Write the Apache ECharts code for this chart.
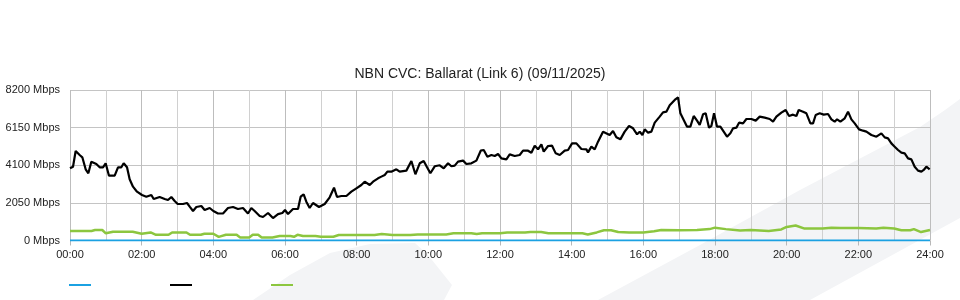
<!DOCTYPE html>
<html>
<head>
<meta charset="utf-8">
<script src="https://cdn.jsdelivr.net/npm/echarts@6/dist/echarts.min.js"></script>
<style>
html,body{margin:0;padding:0;background:#fff;}
#chart{width:960px;height:300px;}
</style>
</head>
<body>
<div id="chart"></div>
<script>
// Tick labels
var yTicks = [0, 2050, 4100, 6150, 8200];
var xTickHours = [0, 2, 4, 6, 8, 10, 12, 14, 16, 18, 20, 22, 24];

// Series: blue (flat at zero)
var blueHours = [0, 24];
var blueMbps  = [0, 0];

// Series: black (main traffic), hours of day and Mbps
var blackHours = [
0.00,0.084,0.158,0.27,0.344,0.437,0.512,0.595,0.735,0.828,0.921,0.995,1.088,1.247,1.34,1.433,1.498,1.591,1.665,1.758,1.87,
2.009,2.13,2.27,2.335,2.502,2.642,2.735,2.828,2.921,3.005,3.153,3.265,3.34,3.433,3.526,3.665,3.758,3.898,
4.0,4.13,4.27,4.409,4.549,4.688,4.828,4.967,5.06,5.153,5.293,5.386,5.526,5.665,5.805,5.926,
6.0,6.084,6.223,6.363,6.437,6.521,6.595,6.688,6.781,6.949,
7.108,7.247,7.368,7.452,7.573,7.713,7.852,7.992,8.131,8.224,8.364,8.457,8.597,8.69,8.783,8.857,8.969,
9.108,9.201,9.387,9.527,9.639,9.76,9.871,9.964,10.057,10.178,10.318,10.43,10.55,10.643,10.736,10.829,10.969,
11.062,11.201,11.341,11.462,11.546,11.648,11.76,11.853,11.946,12.039,12.178,12.271,12.411,12.55,12.643,12.783,12.876,12.969,
13.062,13.155,13.22,13.341,13.453,13.555,13.667,13.806,13.899,14.011,14.132,14.271,14.411,14.457,14.55,14.643,14.736,
14.875,15.061,15.154,15.247,15.359,15.48,15.601,15.713,15.825,15.899,15.974,16.039,16.132,16.225,16.318,16.457,16.55,16.643,16.736,16.876,16.969,
17.034,17.127,17.22,17.313,17.406,17.499,17.573,17.666,17.74,17.833,17.899,17.973,18.057,18.15,18.243,18.336,18.429,18.504,18.597,18.671,18.783,18.876,
19.015,19.136,19.248,19.387,19.527,19.62,19.713,19.852,19.973,20.066,20.178,20.271,20.336,20.457,20.55,20.662,20.736,20.81,20.922,
21.034,21.155,21.248,21.341,21.406,21.499,21.62,21.713,21.806,21.899,22.02,22.132,22.225,22.364,22.504,22.643,22.736,22.829,22.922,
23.015,23.108,23.201,23.294,23.387,23.48,23.573,23.666,23.759,23.824,23.899,23.99
];
var blackMbps = [
3934,4021,4877,4659,4533,3880,3662,4294,4168,3989,3989,4207,3531,3531,3989,3989,4207,3989,3335,2932,2659,
2479,2387,2479,2261,2370,2261,2207,2370,2152,1989,1989,2043,1842,1607,1825,1880,1661,1770,
1607,1470,1470,1770,1825,1716,1770,1470,1770,1607,1335,1280,1498,1225,1440,1498,
1662,1443,1716,1716,2387,2517,2116,1770,2043,1825,
1989,2353,2877,2370,2425,2425,2659,2844,3024,3204,3024,3204,3389,3480,3571,3752,3752,
3880,3752,3807,4332,3607,4207,4332,3989,3662,4043,4098,3934,4207,4043,4080,4298,4352,
4170,4207,4352,4893,4930,4566,4657,4603,4712,4475,4420,4693,4603,4657,4893,4893,4784,5166,
4966,5239,4839,5148,5166,4748,4657,4893,4930,5293,5293,4984,4966,4802,5112,4966,5384,
5930,5748,5966,5621,5511,5930,6239,6112,5784,5930,5748,6057,5875,5930,6420,6748,6984,7020,7366,7656,7801,
6929,6566,6202,6202,6784,6530,6294,6875,6930,6148,6239,6930,6202,6202,5930,5657,5839,6112,6148,6420,6384,6620,
6620,6530,6748,6693,6620,6475,6748,6966,7111,6784,6857,6784,7111,7020,6929,6384,6384,6839,6929,
6857,6893,6602,6475,6602,6475,6657,7020,6602,6384,6057,5984,5930,5748,5657,5839,5621,5566,5293,
5112,4930,4784,4748,4475,4420,4021,3807,3752,3843,4021,3880
];

// Series: green (secondary traffic)
var greenHours = [
0,0.6,0.7,0.9,1.0,1.2,1.75,2.0,2.25,2.4,2.75,2.85,3.25,3.35,3.65,3.75,4.0,4.15,4.35,4.65,4.75,5.0,5.1,5.25,5.35,5.65,5.85,
6.15,6.25,6.35,6.5,6.85,7.0,7.35,7.5,8.5,8.7,9.0,9.5,9.7,10.5,10.7,11.2,11.35,11.5,12.0,12.2,12.7,12.85,13.15,13.35,13.7,
14.3,14.45,14.7,14.9,15.1,15.3,15.6,16.0,16.3,16.5,17.0,17.5,17.85,18.0,18.3,18.7,19.0,19.5,19.85,20.0,20.25,20.5,21.0,
21.25,21.5,22.0,22.5,22.7,23.0,23.2,23.45,23.55,23.75,24
];
var greenMbps = [
517,517,570,570,390,480,480,370,440,310,310,440,440,310,310,370,370,200,310,310,160,160,310,310,160,160,240,
240,200,310,250,250,207,207,297,297,350,297,297,330,330,390,390,350,390,390,440,440,460,460,390,390,
390,330,440,560,560,460,440,440,500,570,560,570,620,700,620,540,570,520,600,740,820,650,650,
700,680,680,650,700,650,560,560,620,460,570
];

var seriesNames = ['Capacity', 'Download', 'Upload'];
var seriesColors = ['#1ba1e2', '#000000', '#8cc63f'];

function pairs(h, v) { return h.map(function (x, i) { return [x, v[i]]; }); }

var chart = echarts.init(document.getElementById('chart'), null, { renderer: 'canvas' });
var font = '"Liberation Sans", Arial, sans-serif';

chart.setOption({
  animation: false,
  textStyle: { fontFamily: font },
  title: {
    text: 'NBN CVC: Ballarat (Link 6) (09/11/2025)',
    left: 'center', top: 62,
    textStyle: { fontFamily: font, fontSize: 14, fontWeight: 'normal', color: '#222' }
  },
  graphic: [
    { type: 'polygon', z: -10, silent: true,
      shape: { points: [[598,300],[700,245],[800,190],[880,148],[920,127],[945,110],[960,99],[960,218],[810,300]] },
      style: { fill: '#f3f4f6' } },
    { type: 'polygon', z: -10, silent: true,
      shape: { points: [[253,300],[290,275],[330,253],[370,244],[415,243],[428,255],[452,285],[444,300]] },
      style: { fill: '#f3f4f6' } }
  ],
  legend: {
    left: 69, top: 284, padding: 0,
    icon: 'rect', itemWidth: 22, itemHeight: 2, itemGap: 79,
    formatter: function () { return ''; },
    data: seriesNames,
    selectedMode: false
  },
  grid: { left: 70, right: 30, top: 90, bottom: 59.5, containLabel: false },
  xAxis: {
    type: 'value', min: 0, max: 24, interval: 2,
    axisLine: { show: false },
    axisTick: { show: true, length: 5, lineStyle: { color: '#b8b8b8' } },
    axisLabel: {
      margin: 9, fontSize: 11, color: '#222', fontFamily: font,
      formatter: function (v) { return (v < 10 ? '0' : '') + v + ':00'; }
    },
    splitLine: { show: true, lineStyle: { color: '#bdbdbd', width: 1 } },
    minorTick: { show: false, splitNumber: 2 },
    minorSplitLine: { show: true, lineStyle: { color: '#d0d0d0', width: 1 } }
  },
  yAxis: {
    type: 'value', min: yTicks[0], max: yTicks[yTicks.length - 1], interval: 2050,
    axisLine: { show: false },
    axisTick: { show: false },
    axisLabel: { margin: 10, fontSize: 11, color: '#222', fontFamily: font,
      formatter: function (v) { return String(v) + ' Mbps'; } },
    splitLine: { show: true, lineStyle: { color: '#c4c4c4', width: 1 } }
  },
  series: [
    { name: seriesNames[0], type: 'line', data: pairs(blueHours, blueMbps), showSymbol: false,
      lineStyle: { color: seriesColors[0], width: 2 }, itemStyle: { color: seriesColors[0] }, z: 4 },
    { name: seriesNames[1], type: 'line', data: pairs(blackHours, blackMbps), showSymbol: false,
      lineStyle: { color: seriesColors[1], width: 2.2 }, itemStyle: { color: seriesColors[1] }, z: 3 },
    { name: seriesNames[2], type: 'line', data: pairs(greenHours, greenMbps), showSymbol: false,
      lineStyle: { color: seriesColors[2], width: 2.5 }, itemStyle: { color: seriesColors[2] }, z: 3 }
  ]
});
</script>
</body>
</html>
